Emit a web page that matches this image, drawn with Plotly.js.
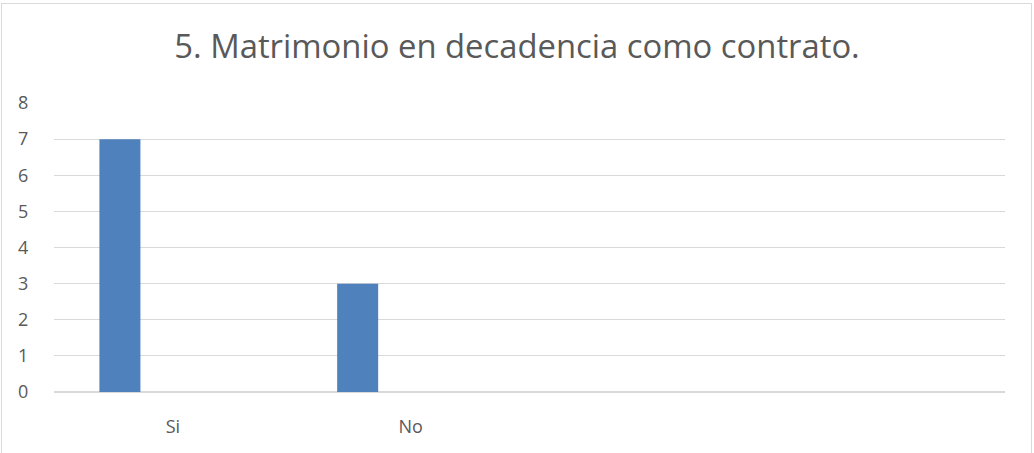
<!DOCTYPE html>
<html>
<head>
<meta charset="utf-8">
<script src="https://cdn.plot.ly/plotly-3.0.1.min.js"></script>
<style>
  html, body { margin:0; padding:0; background:#fff; overflow:hidden; }
  #frame { position:absolute; left:1px; top:3px; width:1031px; height:470px; border:1.5px solid #d9d9d9; box-sizing:border-box; }
  #chart { position:absolute; left:0; top:0; width:1034px; height:453px; }
</style>
</head>
<body>
<div id="frame"></div>
<div id="chart"></div>
<script>
const chartTitle = "5. Matrimonio en decadencia como contrato.";
const categories = ["Si", "No"];
const values = [7, 3];
const yTicks = [0, 1, 2, 3, 4, 5, 6, 7, 8];

const trace = {
  type: "bar",
  x: categories,
  y: values,
  width: 0.1725,
  offset: -0.309,
  marker: { color: "#4f81bd", line: { width: 0 } },
  hoverinfo: "x+y"
};

const layout = {
  width: 1034,
  height: 453,
  paper_bgcolor: "rgba(0,0,0,0)",
  plot_bgcolor: "rgba(0,0,0,0)",
  margin: { l: 54, r: 29, t: 103, b: 61, pad: 0 },
  showlegend: false,
  title: {
    text: chartTitle,
    font: { family: "Open Sans, Noto Sans, sans-serif", size: 32.8, color: "#595959" },
    x: 0.5, xanchor: "center", xref: "container",
    y: 1 - 47 / 453, yanchor: "middle", yref: "container"
  },
  xaxis: {
    type: "category",
    range: [-0.5, 3.5],
    showgrid: false,
    zeroline: false,
    showline: false,
    ticks: "outside",
    ticklen: 18,
    tickcolor: "rgba(0,0,0,0)",
    tickfont: { family: "Open Sans, Noto Sans, sans-serif", size: 18, color: "#595959" },
    fixedrange: true
  },
  yaxis: {
    range: [0, 8],
    tickvals: yTicks,
    ticktext: yTicks.map(String),
    showgrid: true,
    gridcolor: "#d9d9d9",
    gridwidth: 1.2,
    zeroline: true,
    zerolinecolor: "#d9d9d9",
    zerolinewidth: 1.2,
    showline: false,
    ticks: "outside",
    ticklen: 21,
    tickcolor: "rgba(0,0,0,0)",
    tickfont: { family: "Open Sans, Noto Sans, sans-serif", size: 18, color: "#595959" },
    fixedrange: true
  }
};

Plotly.newPlot("chart", [trace], layout, { displayModeBar: false, staticPlot: true });
</script>
</body>
</html>
